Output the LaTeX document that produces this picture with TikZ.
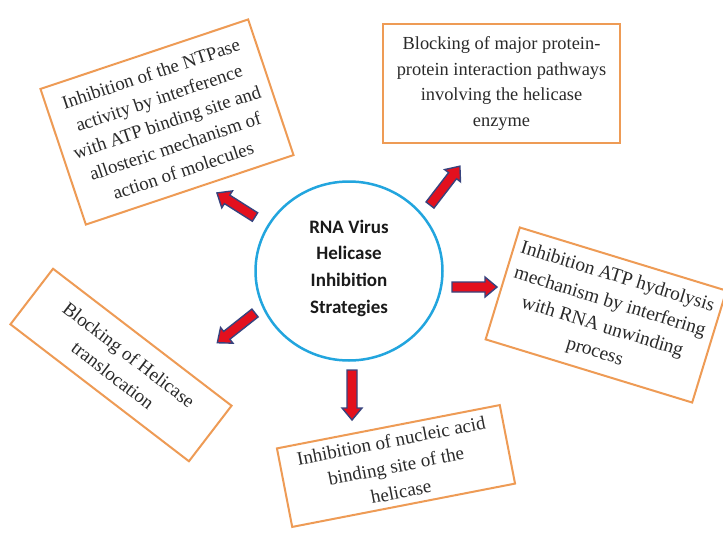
\documentclass[tikz,border=0pt]{standalone}
\usepackage{fontspec}
\usetikzlibrary{shapes.geometric}
\setmainfont{Liberation Serif}
\newfontfamily\carl{Carlito}
\definecolor{boxorange}{HTML}{EE9B55}
\definecolor{circblue}{HTML}{22A5DE}
\definecolor{arrred}{HTML}{E3101E}
\definecolor{arrblue}{HTML}{37437E}
\definecolor{txt}{HTML}{2A2A2A}
\definecolor{hubtxt}{HTML}{1A1A1A}
\tikzset{
  strat/.style={draw=boxorange, line width=2pt, fill=white, align=center,
    text=txt, inner sep=0pt},
  hub/.style={ellipse, draw=circblue, line width=2.5pt, minimum width=187pt,
    minimum height=179pt, align=center, inner sep=0pt,
    font=\carl\bfseries\fontsize{19}{26.7}\selectfont, text=hubtxt},
  blockarrow/.style={fill=arrred, draw=arrblue, line width=1.4pt, line join=miter},
  pics/blockarr/.style={code={
    \draw[blockarrow] (0,-5) -- (#1-12,-5) -- (#1-12,-10) -- (#1,0)
      -- (#1-12,10) -- (#1-12,5) -- (0,5) -- cycle;}}
}
\begin{document}
\begin{tikzpicture}[x=1pt,y=-1pt]
\fill[white] (0,0) rectangle (723,538);
\clip (0,0) rectangle (723,538);
\useasboundingbox (0,0) rectangle (723,538);

\node[hub] (hub) at (349,271) {};
\node[font=\carl\bfseries\fontsize{19}{26.7}\selectfont, text=hubtxt, align=center, inner sep=0pt]
  (hubtext) at (349,268) {RNA Virus\\Helicase\\Inhibition\\Strategies};

\node[strat, rotate=18.5, minimum width=219pt, minimum height=143pt,
  font=\fontsize{18.8}{25.5}\selectfont] (ntp) at (167,122)
  {Inhibition of the NTPase\\activity by interference\\with ATP binding site and\\allosteric mechanism of\\action of molecules};

\node[strat, minimum width=237pt, minimum height=119pt,
  font=\fontsize{18.4}{25.7}\selectfont] (ppi) at (501.5,83.5)
  {Blocking of major protein-\\protein interaction pathways\\involving the helicase\\enzyme};

\node[strat, rotate=-17, minimum width=216pt, minimum height=117pt,
  font=\fontsize{19.4}{26}\selectfont] (atp) at (606,315)
  {Inhibition ATP hydrolysis\\mechanism by interfering\\with RNA unwinding\\process};

\node[strat, rotate=-37.5, minimum width=225pt, minimum height=70pt,
  font=\fontsize{19}{26}\selectfont] (trans) at (121,365)
  {Blocking of Helicase\\translocation};

\node[strat, rotate=11, minimum width=227pt, minimum height=80pt,
  font=\fontsize{19}{26}\selectfont] (nuc) at (396,466)
  {Inhibition of nucleic acid\\binding site of the\\helicase};

\coordinate (t1) at (255,217);
\coordinate (t2) at (430,205);
\coordinate (t3) at (452,287);
\coordinate (t4) at (255,313);
\coordinate (t5) at (352,370);

\pic[rotate=147.7] at (t1) {blockarr=45};
\pic[rotate=52.4] at (t2) {blockarr=49};
\pic[rotate=0] at (t3) {blockarr=45};
\pic[rotate=218.3] at (t4) {blockarr=48};
\pic[rotate=-90] at (t5) {blockarr=50};
\end{tikzpicture}
\end{document}
